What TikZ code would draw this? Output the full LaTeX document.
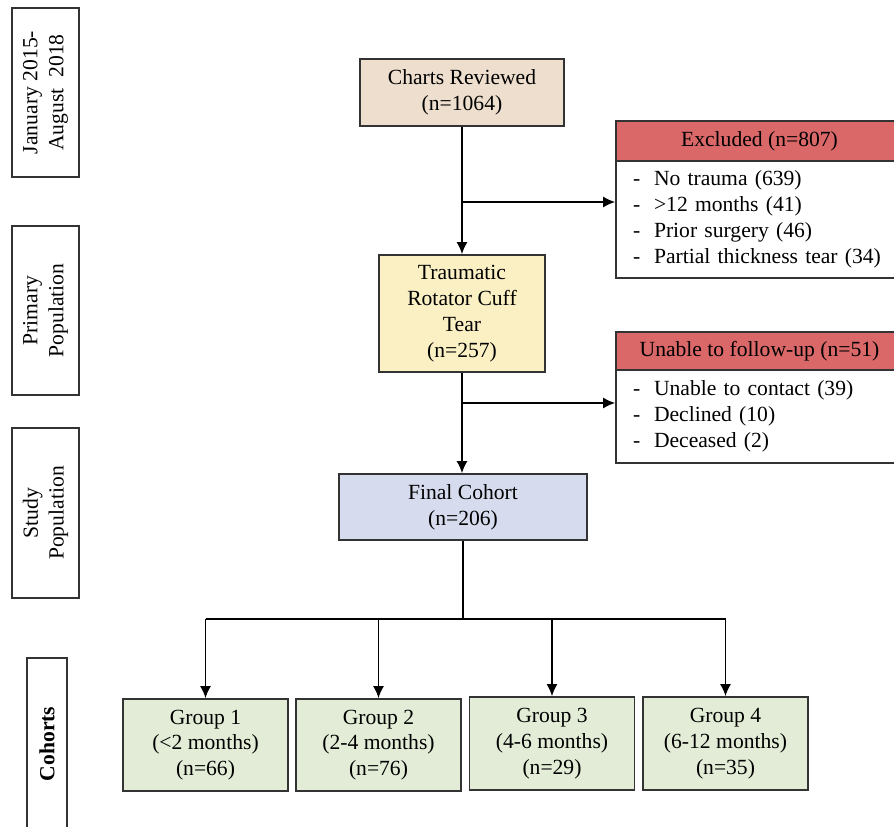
\documentclass[tikz,border=0pt]{standalone}
\usepackage{fontspec}
\setmainfont{Liberation Serif}
\usetikzlibrary{arrows.meta}

\definecolor{chartfill}{RGB}{237,222,205}
\definecolor{traumafill}{RGB}{250,240,196}
\definecolor{finalfill}{RGB}{214,219,238}
\definecolor{headfill}{RGB}{218,104,104}
\definecolor{groupfill}{RGB}{226,236,214}

\begin{document}
\begin{tikzpicture}[x=0.02cm, y=-0.02cm, >={Latex[length=2.4mm,width=2.2mm]},
  font=\fontsize{12.3}{14.7}\selectfont,
  box/.style={draw=black!80, line width=1pt, inner sep=2pt, align=center},
  sidebox/.style={box, rotate=90, minimum height=1.34cm},
  listbox/.style={box, align=left, text width=5.06cm, inner xsep=0.34cm, minimum width=5.74cm},
  link/.style={line width=0.9pt}]
\clip (0,0) rectangle (894,827);
\fill[white] (0,0) rectangle (894,827);

% time and population labels
\node[sidebox, minimum width=3.38cm] (period) at (45.5,92.5) {January 2015-\\August~~2018};
\node[sidebox, minimum width=3.38cm] (primary) at (45.5,310.5) {Primary\\Population};
\node[sidebox, minimum width=3.40cm] (study) at (45.5,513) {Study\\Population};
\node[sidebox, minimum width=3.44cm, minimum height=0.8cm, font=\fontsize{12.3}{14.7}\selectfont\bfseries] (cohorts) at (47,744) {Cohorts};

% main flow
\node[box, fill=chartfill, minimum width=4.08cm, minimum height=1.34cm] (charts) at (462,92.5) {Charts Reviewed\\(n=1064)};
\node[box, fill=traumafill, minimum width=3.32cm, minimum height=2.34cm] (trauma) at (462,313.5) {Traumatic\\Rotator Cuff\\Tear\\(n=257)};
\node[box, fill=finalfill, minimum width=4.96cm, minimum height=1.32cm] (final) at (463,507) {Final Cohort\\(n=206)};

% exclusions
\node[box, fill=headfill, minimum width=5.74cm, minimum height=0.8cm] (exclhead) at (759.5,141) {Excluded (n=807)};
\node[listbox, minimum height=2.34cm] (exclbody) at (759.5,219.5) {%
\begin{tabular}{@{}p{0.42cm}@{}l@{}}
- & No trauma (639)\\
- & >12 months (41)\\
- & Prior surgery (46)\\
- & Partial thickness tear (34)
\end{tabular}};
\node[box, fill=headfill, minimum width=5.74cm, minimum height=0.76cm] (losthead) at (759.5,351) {Unable to follow-up (n=51)};
\node[listbox, minimum height=1.86cm] (lostbody) at (759.5,416.5) {%
\begin{tabular}{@{}p{0.42cm}@{}l@{}}
- & Unable to contact (39)\\
- & Declined (10)\\
- & Deceased (2)
\end{tabular}};

% groups
\node[box, fill=groupfill, minimum width=3.3cm, minimum height=1.84cm] (g1) at (205.5,745) {Group 1\\(<2 months)\\(n=66)};
\node[box, fill=groupfill, minimum width=3.3cm, minimum height=1.84cm] (g2) at (378.5,745) {Group 2\\(2-4 months)\\(n=76)};
\node[box, fill=groupfill, minimum width=3.3cm, minimum height=1.86cm] (g3) at (552,743.5) {Group 3\\(4-6 months)\\(n=29)};
\node[box, fill=groupfill, minimum width=3.3cm, minimum height=1.86cm] (g4) at (725.5,743.5) {Group 4\\(6-12 months)\\(n=35)};

% connectors
\coordinate (split1) at (462,202);
\coordinate (split2) at (462,403);
\coordinate (fork) at (463,619);
\draw[link, ->] (charts.south) -- (trauma.north);
\draw[link, ->] (split1) -- (split1 -| exclbody.west);
\draw[link, ->] (trauma.south) -- (final.north -| trauma.south);
\draw[link, ->] (split2) -- (split2 -| lostbody.west);
\draw[link] (final.south) -- (fork);
\draw[link] (g1.north |- fork) -- (g4.north |- fork);
\foreach \grp in {g1,g2,g3,g4}
  \draw[link, ->] (\grp.north |- fork) -- (\grp.north);
\end{tikzpicture}
\end{document}
